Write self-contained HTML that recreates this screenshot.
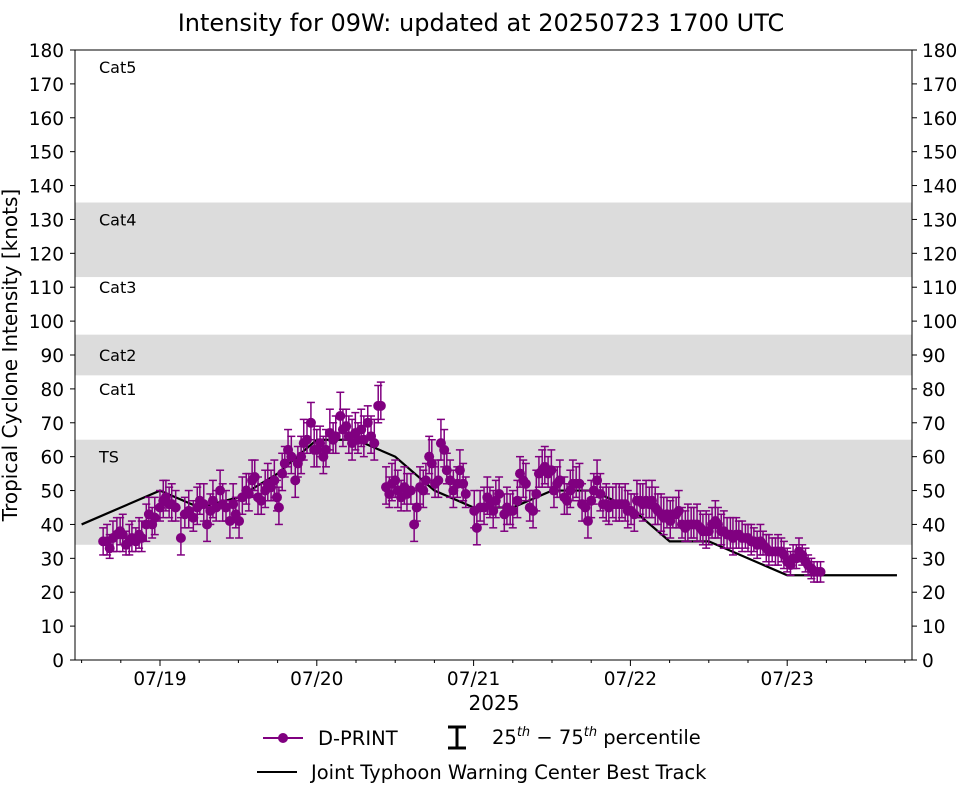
<!DOCTYPE html>
<html><head><meta charset="utf-8"><style>
body{margin:0;background:#fff;}
svg{display:block;font-family:"DejaVu Sans","Liberation Sans",sans-serif;}
</style></head><body>
<svg id="chart" width="962" height="785" viewBox="0 0 962 785" xmlns="http://www.w3.org/2000/svg">
<text x="481" y="31" font-size="24" text-anchor="middle" fill="#000">Intensity for 09W: updated at 20250723 1700 UTC</text>
<g id="bands"></g>
<g id="grid"></g>
<g id="track"></g>
<g id="dprint"></g>
<rect x="75" y="50" width="837" height="610" fill="none" stroke="#000" stroke-width="1"/>
<text transform="translate(17,355) rotate(-90)" font-size="20" text-anchor="middle">Tropical Cyclone Intensity [knots]</text>
<text x="494" y="710" font-size="20" text-anchor="middle">2025</text>
<g>
<line x1="263" y1="738" x2="303" y2="738" stroke="#800080" stroke-width="2"/>
<circle cx="283" cy="738" r="5" fill="#800080"/>
<text x="318" y="745" font-size="19.5">D-PRINT</text>
<g stroke="#000" stroke-width="3">
<line x1="457" y1="727" x2="457" y2="748"/><line x1="448" y1="727" x2="466" y2="727"/><line x1="448" y1="748" x2="466" y2="748"/></g>
<text x="492" y="744" font-size="19.5">25<tspan font-size="13" dy="-8" font-style="italic">th</tspan><tspan dy="8"> − 75</tspan><tspan font-size="13" dy="-8" font-style="italic">th</tspan><tspan dy="8"> percentile</tspan></text>
<line x1="257" y1="772" x2="297" y2="772" stroke="#000" stroke-width="2"/>
<text x="311" y="779" font-size="19.5">Joint Typhoon Warning Center Best Track</text>
</g>
</svg>
<script>
// hours since 2025-07-18 00 UTC
const trackHours=[12,24,30,36,42,48,54,60,66,72,78,84,90,96,102,108,120,136.8];
const trackKnots=[40,50,45,48,55,65,65,60,50,45,45,50,50,45,35,35,25,25];
const dpHours=[15.3,15.9,16.3,16.8,17.4,17.9,18.3,18.8,19.3,19.7,20.3,20.8,21.2,21.9,22.3,22.8,23.2,24.0,24.5,24.9,25.4,25.8,26.4,27.2,27.8,28.4,29.1,29.7,30.1,30.7,31.2,31.7,32.1,32.6,33.2,33.6,34.1,34.7,35.2,35.6,36.1,36.6,37.2,37.6,38.1,38.5,39.0,39.5,40.1,40.5,41.0,41.5,41.9,42.2,42.7,43.1,43.6,44.1,44.7,45.1,45.6,46.0,46.5,47.1,47.6,48.0,48.5,49.0,49.4,50.0,50.5,50.9,51.6,52.0,52.5,52.9,53.4,53.9,54.3,54.8,55.2,55.8,56.3,56.8,57.4,57.8,58.6,59.1,59.5,60.0,60.4,60.9,61.4,61.8,62.4,62.9,63.3,63.8,64.3,64.7,65.2,65.6,66.1,66.6,67.0,67.5,67.9,68.4,68.9,69.5,69.9,70.4,70.8,72.1,72.5,73.0,73.6,74.1,74.5,75.0,75.4,75.9,76.7,77.1,77.6,78.0,78.7,79.1,79.6,80.0,80.6,81.1,81.6,82.0,82.5,82.9,83.4,83.9,84.3,84.8,85.2,85.9,86.3,86.8,87.2,87.7,88.2,88.6,89.1,89.5,90.0,90.4,90.9,91.4,91.8,92.3,92.7,93.3,93.8,94.3,94.7,95.2,95.6,96.1,96.6,97.0,97.5,97.9,98.4,98.9,99.3,99.8,100.2,100.7,101.1,101.6,102.1,102.5,103.0,103.4,103.9,104.4,104.8,105.3,105.7,106.2,106.7,107.1,107.6,108.0,108.5,109.0,109.4,109.9,110.3,110.8,111.3,111.7,112.2,112.6,113.1,113.6,114.0,114.5,114.9,115.4,115.9,116.3,116.8,117.2,117.7,118.2,118.6,119.1,119.5,120.0,120.5,120.9,121.4,121.8,122.3,122.8,123.2,123.7,124.1,124.6,125.1];
const dpKnots=[35,35,33,36,37,38,37,34,35,36,35,37,36,40,43,40,42,45,47,48,46,46,45,36,43,44,42,45,47,46,40,44,47,45,50,46,45,41,46,43,41,48,50,49,53,54,48,47,50,52,51,53,48,45,55,58,62,60,53,58,60,64,65,70,62,62,64,60,62,67,65,66,72,68,69,66,64,67,65,68,65,70,66,64,75,75,51,49,52,53,50,48,51,49,50,40,45,51,50,53,60,58,52,53,64,62,56,53,50,52,56,52,49,44,39,45,45,48,46,44,47,49,43,45,44,44,47,55,53,52,45,44,49,55,56,57,55,56,50,52,53,48,47,50,52,52,52,46,45,41,47,50,53,49,46,46,45,46,46,46,46,46,44,44,43,47,47,46,47,46,47,45,44,43,42,43,41,43,43,44,40,39,40,40,40,40,39,38,38,38,40,41,40,38,38,37,37,36,37,37,36,36,36,35,35,34,35,34,33,32,32,32,32,32,31,29,28,30,30,32,31,29,28,27,26,26,26];
const dpErrLow=[4,4,3,4,5,4,5,3,4,4,3,4,4,5,4,4,5,4,5,4,4,5,4,5,4,5,4,5,4,5,5,4,5,4,5,5,4,5,5,4,5,5,4,5,5,4,5,4,5,5,4,5,4,5,5,4,5,5,5,4,5,5,4,5,5,5,4,5,5,5,4,5,5,5,4,5,5,5,4,5,5,4,5,5,5,4,5,4,5,5,5,4,5,5,4,5,4,5,5,4,5,5,4,5,5,5,4,5,5,4,5,5,4,5,5,4,5,5,4,5,5,4,5,5,4,5,5,4,5,5,4,5,5,4,5,5,4,5,5,4,5,5,4,5,5,4,5,5,4,5,5,4,5,5,4,5,5,4,5,5,4,5,5,4,5,5,4,5,5,4,5,5,4,5,5,4,5,4,4,5,4,4,5,4,4,5,4,4,5,4,4,5,4,4,5,4,4,5,4,4,4,3,4,4,3,4,4,3,4,4,3,4,4,3,4,3,3,3,3,3,3,3,3,3,3,3,3,3,3,3,3,3,3,3];
const dpErrHigh=[4,5,4,5,5,4,6,4,5,5,4,5,5,6,5,5,6,5,6,5,5,6,5,6,5,6,5,6,5,6,6,5,6,5,6,6,5,6,6,5,6,6,5,6,6,5,6,5,6,6,5,6,5,6,6,5,6,6,6,5,6,7,5,6,7,6,5,6,6,7,5,6,7,6,5,6,7,6,5,6,7,5,6,7,6,7,6,5,6,6,6,5,6,6,5,6,5,6,6,5,6,7,5,6,7,6,5,6,6,5,6,6,5,6,6,5,6,6,5,6,6,5,6,6,5,6,6,5,6,6,5,6,7,5,6,6,5,6,6,5,6,6,5,6,7,5,6,6,5,6,6,5,6,6,5,6,6,5,6,6,5,6,6,5,6,6,5,6,6,5,6,6,5,6,6,5,6,5,5,6,5,5,6,5,5,6,5,5,6,5,5,6,5,5,6,5,5,6,5,4,5,4,4,5,4,4,5,4,4,5,4,4,5,4,4,4,4,4,4,4,3,4,3,3,3,3,3,3,3,3,3,3,3,3,3,3,3,3];
const yTicks=[0,10,20,30,40,50,60,70,80,90,100,110,120,130,140,150,160,170,180];
const xTickHours=[24,48,72,96,120];
const xTickLabels=["07/19","07/20","07/21","07/22","07/23"];
const bandLow=[34,84,113];
const bandHigh=[65,96,135];
const catNames=["Cat5","Cat4","Cat3","Cat2","Cat1","TS"];
const catLabelKnots=[175,130,110,90,80,60];

const NS="http://www.w3.org/2000/svg";
const X0=75,X1=912,Y0=660,Y1=50;
const xs=h=>160+(h-24)*156.8/24;
const ys=v=>Y0-(v/180)*(Y0-Y1);
function mk(tag,attrs,parent){const e=document.createElementNS(NS,tag);for(const k in attrs)e.setAttribute(k,attrs[k]);parent.appendChild(e);return e;}
const bands=document.getElementById('bands'),grid=document.getElementById('grid'),track=document.getElementById('track'),dp=document.getElementById('dprint');
bandLow.forEach((lo,i)=>{
  const r=mk('rect',{x:X0,y:ys(bandHigh[i]),width:X1-X0,height:ys(lo)-ys(bandHigh[i]),fill:'#dcdcdc'},bands);
  
  
});
catNames.forEach((n,i)=>{
  const t=mk('text',{x:99,y:ys(catLabelKnots[i])+6,'font-size':16},bands);t.textContent=n;
  
  
});
yTicks.forEach(v=>{
  const y=ys(v);
  mk('line',{x1:X0-5,y1:y,x2:X0,y2:y,stroke:'#000'},grid);
  mk('line',{x1:X1,y1:y,x2:X1+5,y2:y,stroke:'#000'},grid);
  const a=mk('text',{x:X0-11,y:y+7,'font-size':18.5,'text-anchor':'end'},grid);a.textContent=v;
  
  
  const b=mk('text',{x:X1+10,y:y+7,'font-size':18.5},grid);b.textContent=v;
  
  
});
for(let h=12;h<=138;h+=6){
  const x=xs(h);if(x<X0||x>X1)continue;
  const major=h%24===0;
  mk('line',{x1:x,y1:Y0,x2:x,y2:Y0+(major?6:3),stroke:'#000'},grid);
}
xTickHours.forEach((h,i)=>{
  const t=mk('text',{x:xs(h),y:685,'font-size':18.5,'text-anchor':'middle'},grid);t.textContent=xTickLabels[i];
  
  
});
const pl=mk('polyline',{points:trackHours.map((h,i)=>xs(h)+','+ys(trackKnots[i])).join(' '),fill:'none',stroke:'#000','stroke-width':2.2},track);


dpHours.forEach((h,i)=>{
  const el=dpErrLow[i]!==undefined?dpErrLow[i]:3, eh=dpErrHigh[i]!==undefined?dpErrHigh[i]:3;
  const x=xs(h),v=dpKnots[i],lo=ys(v-el),hi=ys(v+eh);
  const g=mk('g',{stroke:'#800080','stroke-width':1.5},dp);
  
  
  mk('line',{x1:x,y1:lo,x2:x,y2:hi},g);
  mk('line',{x1:x-4,y1:lo,x2:x+4,y2:lo},g);
  mk('line',{x1:x-4,y1:hi,x2:x+4,y2:hi},g);
});
dpHours.forEach((h,i)=>{
  const c=mk('circle',{cx:xs(h),cy:ys(dpKnots[i]),r:5,fill:'#800080'},dp);
  
  
});
</script>
</body></html>
